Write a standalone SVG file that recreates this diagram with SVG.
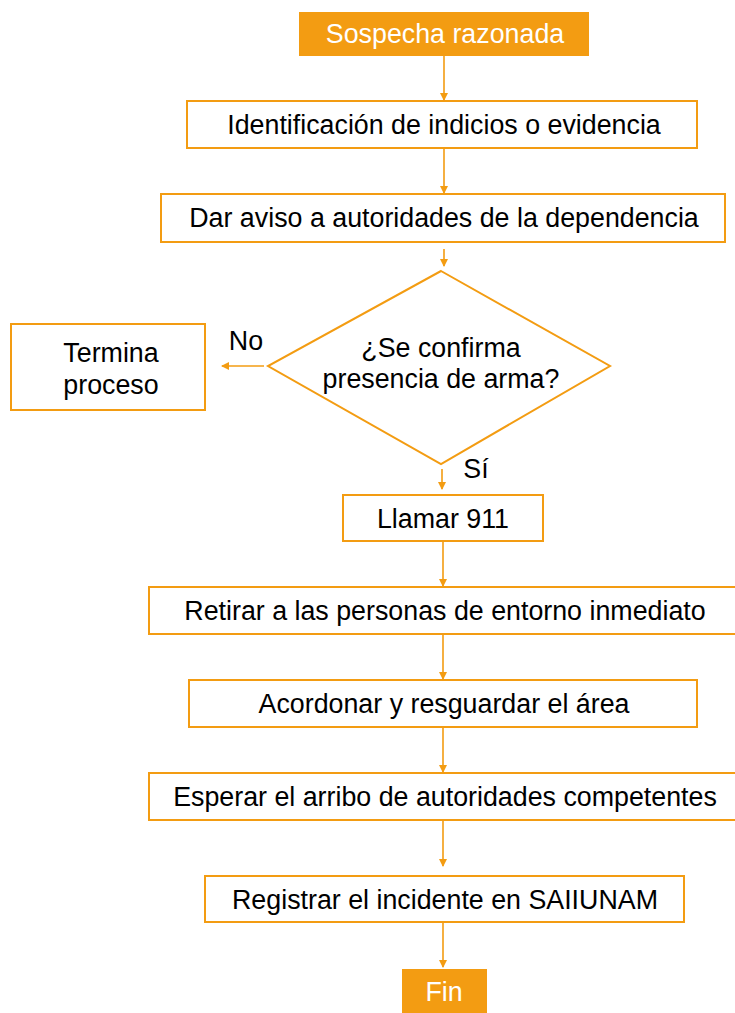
<svg xmlns="http://www.w3.org/2000/svg" width="735" height="1013" viewBox="0 0 735 1013">
<defs>
<marker id="ah" markerWidth="8" markerHeight="8" refX="7" refY="4" orient="auto" markerUnits="userSpaceOnUse">
<path d="M0,0 L8,4 L0,8 Z" fill="#F39C12"/>
</marker>
<style>
.box{fill:#ffffff;stroke:#F39C12;stroke-width:2}
.fill{fill:#F39C12;stroke:none}
.t{font-family:"Liberation Sans",Arial,sans-serif;font-size:26.8px;fill:#000;text-anchor:middle}
.w{fill:#ffffff}
.c{stroke:#F39C12;stroke-width:1.6;fill:none;marker-end:url(#ah)}
</style>
</defs>
<rect width="735" height="1013" fill="#ffffff"/>
<g id="connectors">
<line class="c" x1="444" y1="56" x2="444" y2="100"/>
<line class="c" x1="444" y1="148" x2="444" y2="193"/>
<line class="c" x1="444" y1="249" x2="444" y2="266"/>
<line class="c" x1="264" y1="366" x2="222" y2="366"/>
<line class="c" x1="442" y1="469" x2="442" y2="489"/>
<line class="c" x1="443" y1="541" x2="443" y2="586"/>
<line class="c" x1="443" y1="634" x2="443" y2="679"/>
<line class="c" x1="443" y1="727" x2="443" y2="772"/>
<line class="c" x1="443" y1="820" x2="443" y2="866"/>
<line class="c" x1="443" y1="922" x2="443" y2="967"/>
</g>
<g id="n_start">
<rect class="fill" x="299" y="12" width="290" height="44"/>
<text class="t w" x="445" y="43">Sospecha razonada</text>
</g>
<g id="n_ident">
<rect class="box" x="187" y="101" width="510" height="47"/>
<text class="t" x="444" y="134">Identificación de indicios o evidencia</text>
</g>
<g id="n_aviso">
<rect class="box" x="161" y="194" width="564" height="48"/>
<text class="t" x="444" y="227">Dar aviso a autoridades de la dependencia</text>
</g>
<g id="n_decision">
<polygon points="441,271 610,366 441,464 268,366" fill="#ffffff" stroke="#F39C12" stroke-width="2"/>
<text class="t" x="441" y="357">¿Se confirma</text>
<text class="t" x="441" y="388">presencia de arma?</text>
</g>
<g id="n_termina">
<rect class="box" x="11" y="324" width="194" height="86"/>
<text class="t" x="111" y="362">Termina</text>
<text class="t" x="111" y="394">proceso</text>
</g>
<g id="labels">
<text class="t" x="246" y="350">No</text>
<text class="t" x="476" y="478">Sí</text>
</g>
<g id="n_llamar">
<rect class="box" x="343" y="495" width="200" height="46"/>
<text class="t" x="443" y="528">Llamar 911</text>
</g>
<g id="n_retirar">
<rect class="box" x="149" y="587" width="600" height="47"/>
<text class="t" x="445" y="620">Retirar a las personas de entorno inmediato</text>
</g>
<g id="n_acordonar">
<rect class="box" x="189" y="680" width="508" height="47"/>
<text class="t" x="444" y="713">Acordonar y resguardar el área</text>
</g>
<g id="n_esperar">
<rect class="box" x="149" y="773" width="600" height="47"/>
<text class="t" x="445" y="806">Esperar el arribo de autoridades competentes</text>
</g>
<g id="n_registrar">
<rect class="box" x="205" y="876" width="479" height="46"/>
<text class="t" x="445" y="909">Registrar el incidente en SAIIUNAM</text>
</g>
<g id="n_fin">
<rect class="fill" x="402" y="969" width="85" height="44"/>
<text class="t w" x="444" y="1001">Fin</text>
</g>
</svg>
